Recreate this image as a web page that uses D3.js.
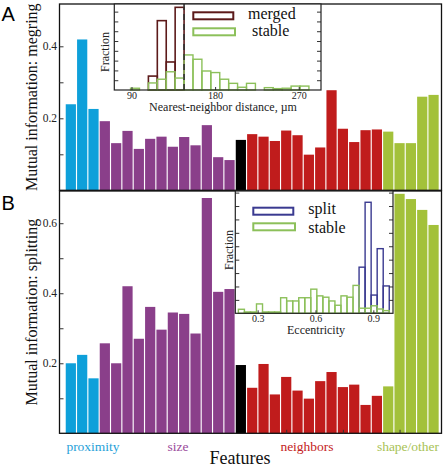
<!DOCTYPE html>
<html><head><meta charset="utf-8">
<script src="https://cdn.jsdelivr.net/npm/d3@7"></script>
<style>body{margin:0;background:#fff}svg{display:block}</style>
</head><body><div id="chart"></div>
<script>
// ---------- data ----------
const groupNames = ["proximity", "size", "baseline", "neighbors", "shape/other"];
const groupSizes = [3, 12, 1, 12, 5];
const groupColors = ["#0ea0da", "#8a3f8a", "#000000", "#c01c1c", "#a3c13a"];
const groupLabelColors = ["#1f9fd8", "#9a4a9a", null, "#c42222", "#a8c255"];
const mergingMI = [0.239, 0.419, 0.226,
  0.192, 0.131, 0.165, 0.115, 0.143, 0.149, 0.121, 0.148, 0.125, 0.181, 0.092, 0.084,
  0.140,
  0.156, 0.149, 0.137, 0.166, 0.153, 0.099, 0.119, 0.278, 0.171, 0.134, 0.167, 0.169,
  0.163, 0.131, 0.131, 0.260, 0.265];
const splittingMI = [0.200, 0.224, 0.157,
  0.257, 0.200, 0.420, 0.270, 0.361, 0.296, 0.345, 0.341, 0.285, 0.672, 0.404, 0.412,
  0.195,
  0.130, 0.198, 0.111, 0.161, 0.122, 0.099, 0.149, 0.175, 0.132, 0.139, 0.081, 0.107,
  0.134, 0.684, 0.669, 0.638, 0.595];
const ticksA = [0.1, 0.2, 0.3, 0.4];
const ticksB = [0.1, 0.2, 0.3, 0.4, 0.5, 0.6];

// inset A: nearest-neighbour distance histograms
const distBinStart = 89.0, distBinWidth = 9.6;
const distStable = [0.009, 0, 0.036, 0.055, 0.093, 0.061, 0.179, 0.157, 0.097, 0.089,
  0.055, 0.034, 0.014, 0.034, 0, 0.012, 0.007, 0.009, 0.020, 0.020];
const distMerged = [0, 0, 0.071, 0.354, 0.143, 0.422];
const distThreshold = 146.6;
const distTicks = [90, 180, 270];

// inset B: eccentricity histograms
const eccBinStart = 0.2, eccBinWidth = 0.0313;
const eccStable = [0.015, 0.005, 0.005, 0.035, 0.005, 0.005, 0.005, 0.058, 0.046, 0.046,
  0.058, 0.058, 0.090, 0.065, 0.060, 0.046, 0.030, 0.065, 0.060, 0.104,
  0.019, 0.019, 0.028, 0.016, 0.010];
const eccSplit = [0, 0, 0, 0, 0, 0, 0, 0, 0, 0, 0, 0, 0, 0, 0, 0, 0, 0, 0, 0,
  0.172, 0.414, 0.068, 0.241, 0.102];
const eccTicks = [0.3, 0.6, 0.9];

// ---------- setup ----------
const W = 444, H = 470;
const serif = "'Liberation Serif','Times New Roman',serif";
const sans = "'Liberation Sans',Arial,sans-serif";
const svg = d3.select("#chart").append("svg").attr("width", W).attr("height", H);

const featureGroup = [];
groupSizes.forEach((n, g) => { for (let k = 0; k < n; k++) featureGroup.push(g); });
const idx = d3.range(mergingMI.length);

const xLin = d3.scaleLinear().domain([0, 33.7]).range([59.5, 441.5]);
const x = d3.scaleBand().domain(idx).range([xLin(0.5), xLin(idx.length + 0.5)])
  .paddingInner(0.1).paddingOuter(0.05);

const yA = d3.scaleLinear().domain([0, 0.5175]).range([190.3, 4]);
const yB = d3.scaleLinear().domain([0, 0.692]).range([433.3, 191]);

function panel(vals, y, ticks, title, letter, letterY) {
  const g = svg.append("g");
  g.selectAll("rect.bar").data(vals).join("rect").attr("class", "bar")
    .attr("x", (d, i) => x(i)).attr("width", x.bandwidth())
    .attr("y", d => y(d)).attr("height", d => y(0) - y(d))
    .attr("fill", (d, i) => groupColors[featureGroup[i]]);
  const r = y.range();
  g.append("rect").attr("x", 59.5).attr("y", r[1]).attr("width", 382).attr("height", r[0] - r[1])
    .attr("fill", "none").attr("stroke", "#111").attr("stroke-width", 1.3);
  const ax = g.append("g").attr("transform", "translate(59.5,0)")
    .call(d3.axisLeft(y).tickValues(ticks).tickSize(-4).tickPadding(2.5)
      .tickFormat(d => (Math.abs(d * 10 - Math.round(d * 10)) < 1e-6 && Math.round(d * 10) % 2 === 0) ? d3.format(".1f")(d) : ""));
  ax.select(".domain").remove();
  ax.selectAll("text").attr("font-family", serif).attr("font-size", 11.5).attr("fill", "#222");
  ax.selectAll("line").attr("stroke", "#333");
  const cy = (r[0] + r[1]) / 2;
  svg.append("text").attr("transform", `translate(37,${cy}) rotate(-90)`)
    .attr("text-anchor", "middle").attr("font-family", serif).attr("font-size", 16)
    .attr("fill", "#111").text(title);
  svg.append("text").attr("x", 1.5).attr("y", letterY).attr("font-family", sans)
    .attr("font-size", 20).attr("fill", "#000").text(letter);
}
panel(mergingMI, yA, ticksA, "Mutual information: megring", "A", 21);
panel(splittingMI, yB, ticksB, "Mutual information: splitting", "B", 210);

// x ticks on bottom of panel B
svg.append("g").attr("transform", `translate(0,${yB(0)})`)
  .call(d3.axisBottom(xLin).tickValues([20, 25, 30]).tickSize(-3.5).tickFormat(""))
  .call(g => g.select(".domain").remove())
  .selectAll("line").attr("stroke", "#333");

// group labels
const groupLabelX = [93, 178, null, 307, 408];
groupNames.forEach((nm, g) => {
  if (!groupLabelColors[g]) return;
  svg.append("text").attr("x", groupLabelX[g]).attr("y", 451)
    .attr("text-anchor", "middle").attr("font-family", serif).attr("font-size", 13.5)
    .attr("fill", groupLabelColors[g]).text(nm);
});
svg.append("text").attr("x", 240).attr("y", 463.5).attr("text-anchor", "middle")
  .attr("font-family", serif).attr("font-size", 18).attr("fill", "#111").text("Features");

// ---------- insets ----------
function inset(opts) {
  const { xs, ys, series, binStart, binWidth, xTicks, xLabel, xLabelX, xLabelY, fracX, fracY, tickPad } = opts;
  const g = svg.append("g");
  const [x0, x1] = xs.range(), [y0, y1] = ys.range();
  g.append("rect").attr("x", x0).attr("y", y1).attr("width", x1 - x0).attr("height", y0 - y1)
    .attr("fill", "#fff");
  series.forEach(s => {
    g.selectAll(null).data(s.values.map((v, k) => ({ v, k })).filter(d => d.v > 0)).join("rect")
      .attr("x", d => xs(binStart + d.k * binWidth))
      .attr("width", d => xs(binStart + (d.k + 1) * binWidth) - xs(binStart + d.k * binWidth))
      .attr("y", d => ys(d.v)).attr("height", d => ys(0) - ys(d.v))
      .attr("fill", "none").attr("stroke", s.color).attr("stroke-width", s.sw);
  });
  if (opts.threshold != null) {
    g.append("line").attr("x1", xs(opts.threshold)).attr("x2", xs(opts.threshold))
      .attr("y1", y1).attr("y2", y0).attr("stroke", "#333").attr("stroke-width", 1.6)
      .attr("stroke-dasharray", "6,4");
  }
  const yt = d3.range(0.05, ys.domain()[1], 0.05);
  const la = g.append("g").attr("transform", `translate(${x0},0)`)
    .call(d3.axisLeft(ys).tickValues(yt).tickSize(-4).tickFormat(""));
  const ra = g.append("g").attr("transform", `translate(${x1},0)`)
    .call(d3.axisRight(ys).tickValues(yt).tickSize(-4).tickFormat(""));
  const ba = g.append("g").attr("transform", `translate(0,${y0})`)
    .call(d3.axisBottom(xs).tickValues(xTicks).tickSize(-3).tickPadding(tickPad));
  [la, ra, ba].forEach(a => {
    a.select(".domain").remove();
    a.selectAll("line").attr("stroke", "#333");
  });
  ba.selectAll("text").attr("font-family", serif).attr("font-size", 10).attr("fill", "#222");
  g.append("rect").attr("x", x0).attr("y", y1).attr("width", x1 - x0).attr("height", y0 - y1)
    .attr("fill", "none").attr("stroke", "#222").attr("stroke-width", 1.2);
  g.append("text").attr("x", xLabelX).attr("y", xLabelY).attr("text-anchor", "middle")
    .attr("font-family", serif).attr("font-size", 12).attr("fill", "#222").text(xLabel);
  g.append("text").attr("transform", `translate(${fracX},${fracY}) rotate(-90)`)
    .attr("text-anchor", "middle").attr("font-family", serif).attr("font-size", 12)
    .attr("fill", "#222").text("Fraction");
  // legend
  opts.legend.forEach(l => {
    g.append("rect").attr("x", l.bx).attr("y", l.by).attr("width", l.bw).attr("height", 7)
      .attr("fill", "#fff").attr("stroke", l.color).attr("stroke-width", 2);
    g.append("text").attr("x", l.tx).attr("y", l.ty).attr("font-family", serif)
      .attr("font-size", 16).attr("fill", "#111").text(l.label);
  });
}

const stableCol = "#8cc05a", mergedCol = "#5c1a1a", splitCol = "#3a3a90";

inset({
  xs: d3.scaleLinear().domain([71.5, 294]).range([114.3, 321]),
  ys: d3.scaleLinear().domain([0, 0.439]).range([90, 4]),
  series: [{ values: distMerged, color: mergedCol, sw: 1.6 }, { values: distStable, color: stableCol, sw: 1.4 }],
  binStart: distBinStart, binWidth: distBinWidth, xTicks: distTicks, tickPad: 1.5,
  threshold: distThreshold,
  xLabel: "Nearest-neighbor distance, \u00b5m", xLabelX: 223, xLabelY: 110.5,
  fracX: 109, fracY: 52,
  legend: [
    { bx: 193.3, by: 12.3, bw: 40, color: mergedCol, tx: 248, ty: 18.5, label: "merged" },
    { bx: 193.3, by: 28.3, bw: 41.7, color: stableCol, tx: 252, ty: 36, label: "stable" }
  ]
});

inset({
  xs: d3.scaleLinear().domain([0.184, 1.002]).range([235.3, 393]),
  ys: d3.scaleLinear().domain([0, 0.456]).range([313.3, 191]),
  series: [{ values: eccSplit, color: splitCol, sw: 1.4 }, { values: eccStable, color: stableCol, sw: 1.4 }],
  binStart: eccBinStart, binWidth: eccBinWidth, xTicks: eccTicks, tickPad: 1.5,
  threshold: null,
  xLabel: "Eccentricity", xLabelX: 316, xLabelY: 334,
  fracX: 233, fracY: 250,
  legend: [
    { bx: 253.3, by: 207.7, bw: 40, color: splitCol, tx: 308.3, ty: 213.5, label: "split" },
    { bx: 253.3, by: 223.3, bw: 41.7, color: stableCol, tx: 308.3, ty: 232.5, label: "stable" }
  ]
});
</script></body></html>
